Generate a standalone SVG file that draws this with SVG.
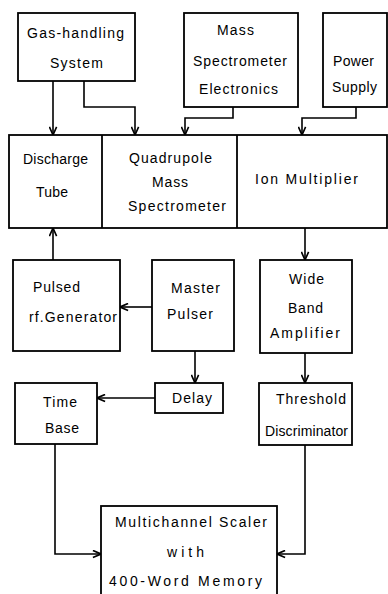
<svg xmlns="http://www.w3.org/2000/svg" width="388" height="594" viewBox="0 0 388 594">
<defs>
<marker id="arr" viewBox="0 0 10 10" refX="10" refY="5" markerWidth="9" markerHeight="9" markerUnits="userSpaceOnUse" orient="auto">
<path d="M1,1 L10,5 L1,9" fill="none" stroke="#000" stroke-width="1.8"/>
</marker>
<style>
rect{fill:#fff;stroke:#000;stroke-width:1.8}
line.d{stroke:#000;stroke-width:1.8}
text{font-family:"Liberation Sans",Arial,sans-serif;font-size:14px;fill:#000;text-anchor:middle}
.c path{fill:none;stroke:#000;stroke-width:1.6;marker-end:url(#arr)}
</style>
</defs>
<rect x="0" y="0" width="388" height="594" style="stroke:none"/>
<g id="gas">
<rect x="18" y="13" width="117" height="68"/>
<text x="75.5" y="38" textLength="97" lengthAdjust="spacing">Gas-handling</text>
<text x="76.5" y="68" textLength="53" lengthAdjust="spacing">System</text>
</g>
<g id="mse">
<rect x="184" y="13" width="114" height="94"/>
<text x="235.5" y="35" textLength="37" lengthAdjust="spacing">Mass</text>
<text x="240" y="66" textLength="94" lengthAdjust="spacing">Spectrometer</text>
<text x="238.5" y="94" textLength="79" lengthAdjust="spacing">Electronics</text>
</g>
<g id="power">
<rect x="323" y="13" width="64" height="94"/>
<text x="353.5" y="66" textLength="41" lengthAdjust="spacing">Power</text>
<text x="354.5" y="92" textLength="45" lengthAdjust="spacing">Supply</text>
</g>
<g id="mainrow">
<rect x="9" y="135" width="378" height="93"/>
<line class="d" x1="102" y1="135" x2="102" y2="228"/>
<line class="d" x1="237" y1="135" x2="237" y2="228"/>
</g>
<g id="discharge">
<text x="55.5" y="164" textLength="65" lengthAdjust="spacing">Discharge</text>
<text x="52" y="197" textLength="32" lengthAdjust="spacing">Tube</text>
</g>
<g id="quad">
<text x="170.5" y="163" textLength="83" lengthAdjust="spacing">Quadrupole</text>
<text x="170" y="187" textLength="36" lengthAdjust="spacing">Mass</text>
<text x="177" y="211" textLength="98" lengthAdjust="spacing">Spectrometer</text>
</g>
<g id="ion">
<text x="306.5" y="184" textLength="103" lengthAdjust="spacing">Ion Multiplier</text>
</g>
<g id="pulsed">
<rect x="13" y="260" width="107" height="91"/>
<text x="56.5" y="292" textLength="47" lengthAdjust="spacing">Pulsed</text>
<text x="73" y="322" textLength="88" lengthAdjust="spacing">rf.Generator</text>
</g>
<g id="master">
<rect x="152" y="260" width="82" height="91"/>
<text x="195.5" y="293" textLength="49" lengthAdjust="spacing">Master</text>
<text x="190" y="319" textLength="46" lengthAdjust="spacing">Pulser</text>
</g>
<g id="wba">
<rect x="260" y="260" width="92" height="93"/>
<text x="306.5" y="284" textLength="35" lengthAdjust="spacing">Wide</text>
<text x="305.5" y="313" textLength="35" lengthAdjust="spacing">Band</text>
<text x="305" y="338" textLength="70" lengthAdjust="spacing">Amplifier</text>
</g>
<g id="delay">
<rect x="155" y="383" width="68" height="30"/>
<text x="192" y="403" textLength="40" lengthAdjust="spacing">Delay</text>
</g>
<g id="timebase">
<rect x="15" y="383" width="82" height="61"/>
<text x="60" y="407" textLength="34" lengthAdjust="spacing">Time</text>
<text x="62" y="433" textLength="34" lengthAdjust="spacing">Base</text>
</g>
<g id="threshold">
<rect x="259" y="383" width="93" height="62"/>
<text x="311" y="404" textLength="70" lengthAdjust="spacing">Threshold</text>
<text x="306.5" y="436" textLength="83" lengthAdjust="spacing">Discriminator</text>
</g>
<g id="mcs">
<rect x="101" y="506" width="176" height="100"/>
<text x="191" y="527" textLength="152" lengthAdjust="spacing">Multichannel Scaler</text>
<text x="185.5" y="557" textLength="37" lengthAdjust="spacing">with</text>
<text x="185.5" y="586" textLength="153" lengthAdjust="spacing">400-Word Memory</text>
</g>
<g id="connectors" class="c">
<path d="M53,81 V135"/>
<path d="M84,81 V107 H135 V135"/>
<path d="M233,107 V118 H185 V135"/>
<path d="M356,107 V118 H302 V135"/>
<path d="M305,228 V260"/>
<path d="M53,260 V228"/>
<path d="M152,307 H120"/>
<path d="M195,351 V383"/>
<path d="M155,398 H97"/>
<path d="M55,444 V554 H101"/>
<path d="M305,353 V383"/>
<path d="M305,445 V554 H277"/>
</g>
</svg>
